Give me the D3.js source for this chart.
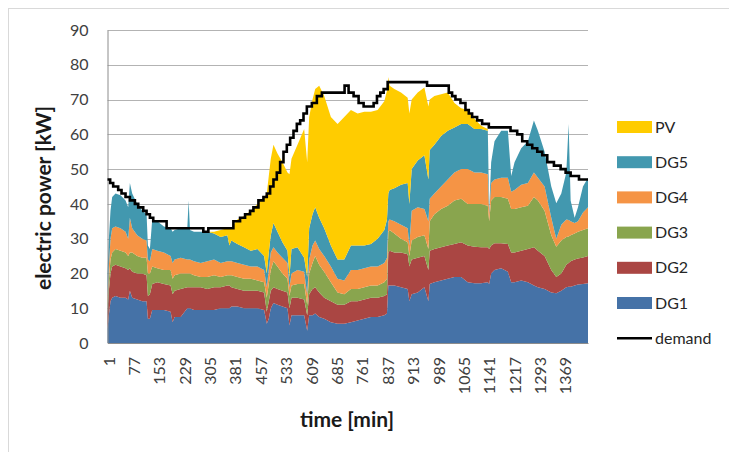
<!DOCTYPE html>
<html>
<head>
<meta charset="utf-8">
<script src="https://cdn.jsdelivr.net/npm/d3@7"></script>
<style>
  body { margin: 0; background: #fff; }
  svg { font-family: Lato, "Open Sans", sans-serif; }
</style>
</head>
<body>
<svg id="chart" width="729" height="452"></svg>
<script>
// minute of the day for each sample
const minutes = [1,5,10,15,25,40,55,63,68,75,90,105,118,122,128,135,150,170,190,196,
  202,220,240,244,248,260,280,300,320,340,360,366,372,390,410,430,450,470,478,484,
  490,498,510,525,540,546,552,570,590,599,605,615,623,635,650,670,690,710,730,750,
  770,790,810,830,838,842,846,860,880,900,905,912,930,950,962,966,980,1000,1020,1040,
  1060,1080,1100,1120,1140,1144,1150,1160,1180,1200,1210,1220,1240,1260,1278,1290,1310,1330,1345,1360,
  1375,1382,1388,1400,1410,1425,1440];

const dg1 = [4,8,12,13,13.5,13,13,12.5,15,13, 12.5,12,12,7,7,9.5,9.5,9.5,9,6,
  7.5,7.5,10,10,10,9.5,9.5,9.5,9.5,10, 10,10,10.5,10.5,10,10,10,9.5,5.5,7,
  10,11.5,11,10.5,10,5,8,8,8,3.5, 8,8,8.5,7.5,7,6,5.5,5.5,6,6.5,
  7,7.5,7.5,8,8.5,16.5,16.5,16.5,16,15.5, 12,14,14.5,16,12,17,17.5,18,18.5,19,
  19,17.5,17.2,17.2,17.5,17,20,21,21.5,20.5, 17.5,17.5,18,17.5,16.5,16,15.5,14.5,14.3,15,
  16,16.2,16.2,16.5,16.8,17,17.2];

const dg2 = [5,7,8,9,9,9,8.5,8.5,6.5,7.5, 7.5,8,7.5,6.5,7,7.5,8,7.5,7.5,8,
  7.5,8,6,6,6,6.5,6.5,6,6.5,6, 6.5,6.5,5.5,5,5,5,5,5,3.5,5,
  5,4.5,4.5,4.5,4.5,5,5,5,4.5,4.5, 6,7.5,7.5,7,6,6,5.5,5.5,6,5.5,
  5.5,5.5,5.5,5.5,5.5,9.5,10,9.5,10,10, 10,10,10,9,9,9.5,9.5,9.5,9.5,9.5,
  10,10.5,10.5,10.3,10,10,8,7.7,7.2,8, 8.5,8.5,8.5,9.5,11,10.5,9.5,6.5,4.7,5,
  6.5,6.8,7.3,7.5,7.5,7.6,7.8];

const dg3 = [2,3,4,4,4.5,4.5,4.5,4,4.5,5.5, 5,4.5,5,6.5,6,5,4,4,4.5,4.5,
  4.5,4.5,4,4,4,3.5,3,3.5,3.5,3, 3,3,3.5,3.5,3.5,3.5,3,3,4,5,
  6,7.5,6.5,5,4,3.5,3.5,4,4.5,3, 6,7.5,9,8,7.5,5.5,3.5,3,3.5,3.5,
  3.5,3.5,3.5,4,4.5,6,6,5.5,4,3.5, 3,5.5,6,6,6,8.5,10,11,11.5,12.5,
  12.5,12,12.3,12.5,12,8,13,13.3,13.3,13, 12.5,12.5,12.5,12.5,14.5,14.5,13,10,8.7,9.5,
  8,7.6,7.5,7.5,7.7,7.9,8];

const dg4 = [2,4,6,7,6.5,6.5,6,5,10,7, 6,5.5,5,4,3.5,5,5,5,4,4.5,
  4.5,4.5,4,4,4,4,4,4.5,4.5,4, 4,4,4,4,4,3.5,4,3.5,3,4,
  5,4,4,4.5,4.5,2.5,3.5,4,3.5,3, 4,5,4.5,4.5,4.5,4.5,4,4,5.5,5.5,
  5.5,5.5,5.5,5.5,6,3,3,3.5,4,4, 3,8.5,8.5,7.5,8,6.5,6,6.5,7.5,8,
  8.5,10,9,9,9,2,5,5,5.5,6, 5,5.5,6.5,6.5,7,6.5,7,5,2.3,4.5,
  5,4.8,4,3,3,5,6];

const dg5 = [7,8,8,9,9.5,9.5,9,9,10,10, 9,8,7.5,4,3.5,8.5,8.5,7.5,8,9,
  8.5,8.5,9,17,8.5,8.5,9,8.5,7.5,7.5, 7.5,4.5,6,5.5,5,4.5,5,4,4,5,
  5,7,6,4.5,3.5,3,7,6.5,4,5, 9,9,9.5,9,8,6,5.5,6,7,7,
  6.5,6.5,8,9.5,11,8,8.5,9.5,11.5,13, 12,12,13.5,15.5,12,14,14,14.5,14,13,
  13,13,12.5,12.5,12.5,1,6,11,13.5,13.5, 4.5,8,10.5,12,15,13.5,10,9,10.2,9,
  13.5,27.6,6,1.5,4,7.5,8.5];

const pv = [0,0,0,0,0,0,0,0,0,0, 0,0,0,0,0,0,0,0,0,0,
  0,0,0,0,0,0,0,0,0.5,2, 2,5,3.5,7,9,11.5,13,17,23,22,
  22,22.5,22.5,23,22.5,29.5,26,29.5,37,33, 32,33,34,38,38,37,39,41,39,38,
  38.5,38,37,37,37,33.5,30,28.5,26.5,24.5, 26,20,19.5,19.5,21,14.5,14,12,11,7,
  4.5,4,3,1,0.5,0,0,0,0,0, 0,0,0,0,0,0,0,0,0,0,
  0,0,0,0,0,0,0];

// demand is a step line: value holds from each minute until the next one
const demandMin = [1,9,18,33,43,55,68,83,93,108,118,128,138,178,288,303,378,398,413,428,
  438,453,468,478,488,498,508,518,528,538,548,558,568,578,588,598,613,628,643,711,
  723,738,753,768,798,808,818,828,840,958,1023,1033,1043,1058,1073,1083,1093,1108,1123,1143,
  1208,1228,1243,1258,1273,1288,1303,1318,1338,1358,1373,1388,1413,1440];
const demandKW = [47,46,45,44,43,42,41,40,39,38,37,36,35,33,32,33,35,36,37,38,
  39,41,42,43,45,47,49,52,55,57,59,61,63,64,66,68,69,71,72,74,
  72,71,69,68,69,71,72,73,75,74,72,71,70,69,67,66,65,64,63,62,
  61,60,58,57,56,55,54,52,51,50,49,48,47,47];

const seriesNames = ['DG1', 'DG2', 'DG3', 'DG4', 'DG5', 'PV'];
const seriesColors = ['#4572a7', '#aa4643', '#89a54e', '#f59445', '#4298af', '#ffcc00'];
const timeTicks = [1,77,153,229,305,381,457,533,609,685,761,837,913,989,1065,1141,1217,1293,1369];
const powerTicks = [0,10,20,30,40,50,60,70,80,90];

const svg = d3.select('#chart');
const plotLeft = 107.5, plotRight = 588, plotTop = 30, plotBottom = 343;

// outer chart frame (only top and left edges fall inside the picture)
svg.append('rect')
  .attr('x', 8.5).attr('y', 8.5)
  .attr('width', 760).attr('height', 480)
  .attr('fill', 'none').attr('stroke', '#d9d9d9');

const x = d3.scaleLinear().domain([1, 1440]).range([plotLeft, plotRight]);
const y = d3.scaleLinear().domain([0, 90]).range([plotBottom, plotTop]);

// gridlines
svg.append('g')
  .selectAll('line')
  .data(powerTicks.slice(1))
  .enter()
  .append('line')
  .attr('x1', plotLeft).attr('x2', plotRight)
  .attr('y1', (d) => Math.round(y(d)) + 0.5)
  .attr('y2', (d) => Math.round(y(d)) + 0.5)
  .attr('stroke', '#b3b3b3')
  .attr('stroke-width', 1.2);

const rows = minutes.map((m, i) => ({
  minute: m, DG1: dg1[i], DG2: dg2[i], DG3: dg3[i], DG4: dg4[i], DG5: dg5[i], PV: pv[i],
}));
const stacked = d3.stack().keys(seriesNames)(rows);

const area = d3.area()
  .x((d) => x(d.data.minute))
  .y0((d) => y(d[0]))
  .y1((d) => y(d[1]));

svg.append('g')
  .selectAll('path')
  .data(stacked)
  .enter()
  .append('path')
  .attr('d', area)
  .attr('fill', (d, i) => seriesColors[i]);

// axes
const yAxis = svg.append('g')
  .attr('transform', 'translate(' + plotLeft + ',0)')
  .call(d3.axisLeft(y).tickValues(powerTicks).tickSize(0).tickPadding(19));
yAxis.select('.domain').attr('stroke', '#8c8c8c').attr('stroke-width', 1);
yAxis.selectAll('text').attr('font-size', 16).attr('fill', '#404040')
  .style('font-family', 'Lato, sans-serif');

const xAxis = svg.append('g')
  .attr('transform', 'translate(0,' + plotBottom + ')')
  .call(d3.axisBottom(x).tickValues(timeTicks).tickFormat(d3.format('d'))
    .tickSize(0).tickSizeOuter(0));
xAxis.select('.domain').attr('stroke', '#8c8c8c').attr('stroke-width', 1);
xAxis.selectAll('text')
  .attr('transform', 'rotate(-90)')
  .attr('x', -14).attr('y', 1).attr('dy', '0.35em')
  .style('text-anchor', 'end')
  .style('font-family', 'Lato, sans-serif')
  .attr('font-size', 16).attr('fill', '#404040');

// demand step line
const demandLine = d3.line()
  .x((d) => x(d[0]))
  .y((d) => y(d[1]))
  .curve(d3.curveStepAfter);
svg.append('path')
  .datum(demandMin.map((m, i) => [m, demandKW[i]]))
  .attr('d', demandLine)
  .attr('fill', 'none')
  .attr('stroke', '#000')
  .attr('stroke-width', 2.6);

// axis titles
svg.append('text')
  .attr('transform', 'translate(51,198) rotate(-90)')
  .attr('text-anchor', 'middle')
  .attr('font-size', 21).attr('font-weight', 'bold').attr('fill', '#1a1a1a')
  .text('electric power [kW]');
svg.append('text')
  .attr('x', 347).attr('y', 427)
  .attr('text-anchor', 'middle')
  .attr('font-size', 21).attr('font-weight', 'bold').attr('fill', '#1a1a1a')
  .text('time [min]');

// legend
const legendItems = seriesNames.map((n, i) => ({ name: n, color: seriesColors[i] })).reverse();
const legend = svg.append('g');
legendItems.forEach((d, i) => {
  const cy = 127 + i * 35.2;
  legend.append('rect')
    .attr('x', 617).attr('y', cy - 6)
    .attr('width', 35).attr('height', 12)
    .attr('fill', d.color);
  legend.append('text')
    .attr('x', 655).attr('y', cy).attr('dy', '0.35em')
    .attr('font-size', 16).attr('fill', '#262626')
    .text(d.name);
});
const demandY = 127 + 6 * 35.2;
legend.append('line')
  .attr('x1', 617).attr('x2', 652)
  .attr('y1', demandY).attr('y2', demandY)
  .attr('stroke', '#000').attr('stroke-width', 2.6);
legend.append('text')
  .attr('x', 655).attr('y', demandY).attr('dy', '0.35em')
  .attr('font-size', 16).attr('fill', '#262626')
  .text('demand');
</script>
</body>
</html>
